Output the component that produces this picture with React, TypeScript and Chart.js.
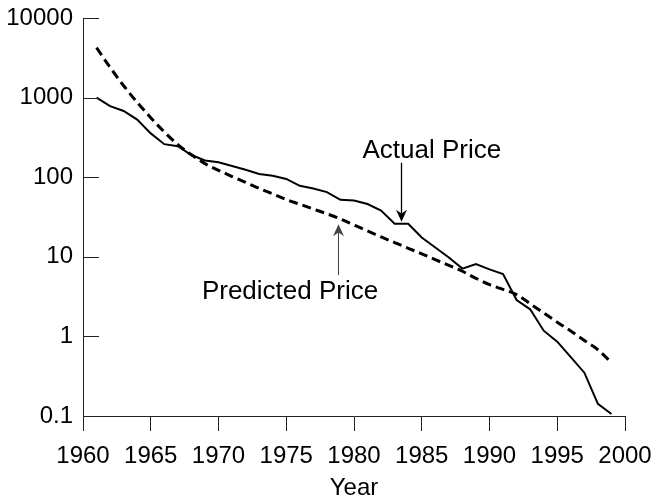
import React, { useEffect, useRef } from "react";
import { Chart, registerables } from "chart.js";

Chart.register(...registerables);

const years = [
  1961, 1962, 1963, 1964, 1965, 1966, 1967, 1968, 1969, 1970,
  1971, 1972, 1973, 1974, 1975, 1976, 1977, 1978, 1979, 1980,
  1981, 1982, 1983, 1984, 1985, 1986, 1987, 1988, 1989, 1990,
  1991, 1992, 1993, 1994, 1995, 1996, 1997, 1998, 1999,
];

const actualPrice = [
  1000, 780, 680, 530, 355, 260, 245, 190, 162, 154,
  138, 124, 110, 104, 95, 78, 72, 65, 52, 51,
  46, 38, 26, 26, 17.5, 13.1, 9.8, 7.1, 8.1, 6.95,
  6.07, 2.86, 2.19, 1.18, 0.86, 0.55, 0.35, 0.142, 0.106,
];

const predictedPrice = [
  4240, 2400, 1410, 870, 560, 370, 257, 191, 148, 122,
  102, 86.1, 72.4, 61.7, 52.5, 45.7, 39.8, 34.7, 29.9, 25.1,
  21.1, 17.8, 15.1, 12.8, 10.9, 9.2, 7.8, 6.58, 5.37, 4.47,
  3.89, 3.35, 2.57, 1.97, 1.51, 1.17, 0.89, 0.68, 0.47,
];

const xTicks = [1960, 1965, 1970, 1975, 1980, 1985, 1990, 1995, 2000];
const yTicks = [0.1, 1, 10, 100, 1000, 10000];
const xTitle = "Year";
const actualLabel = "Actual Price";
const predictedLabel = "Predicted Price";
// arrow tips, in data coordinates [year, price]
const actualArrowTip = [1983.5, 27.5];
const predictedArrowTip = [1978.8, 25.7];

const FONT = "'Liberation Sans', Arial, Helvetica, sans-serif";
const AXIS_COLOR = "#222";

function drawArrow(ctx: CanvasRenderingContext2D, x: number, tailY: number, tipY: number, color: string, width: number) {
  const dir = tipY > tailY ? 1 : -1;
  const headLen = 12;
  const headHalf = 5.5;
  ctx.strokeStyle = color;
  ctx.fillStyle = color;
  ctx.lineWidth = width;
  ctx.beginPath();
  ctx.moveTo(x, tailY);
  ctx.lineTo(x, tipY - dir * headLen * 0.6);
  ctx.stroke();
  ctx.beginPath();
  ctx.moveTo(x, tipY);
  ctx.lineTo(x - headHalf, tipY - dir * headLen);
  ctx.lineTo(x, tipY - dir * headLen * 0.7);
  ctx.lineTo(x + headHalf, tipY - dir * headLen);
  ctx.closePath();
  ctx.fill();
}

const extrasPlugin = {
  id: "extras",
  afterDatasetsDraw(chart: any) {
    const { ctx, chartArea, scales } = chart;
    const x = scales.x;
    const y = scales.y;
    ctx.save();
    // inward y ticks
    ctx.strokeStyle = AXIS_COLOR;
    ctx.lineWidth = 1;
    for (const v of yTicks) {
      if (v === yTicks[0]) continue;
      const py = Math.round(y.getPixelForValue(v)) + 0.5;
      ctx.beginPath();
      ctx.moveTo(chartArea.left, py);
      ctx.lineTo(chartArea.left + 16, py);
      ctx.stroke();
    }
    // Actual price annotation
    const ax = Math.round(x.getPixelForValue(actualArrowTip[0])) + 0.5;
    const ay = y.getPixelForValue(actualArrowTip[1]);
    drawArrow(ctx, ax, ay - 59, ay, "#000", 1.3);
    ctx.fillStyle = "#000";
    ctx.font = `26px ${FONT}`;
    ctx.textAlign = "left";
    ctx.textBaseline = "alphabetic";
    ctx.fillText(actualLabel, ax - 39, ay - 64);
    // Predicted price annotation
    const px = Math.round(x.getPixelForValue(predictedArrowTip[0])) + 0.5;
    const py = y.getPixelForValue(predictedArrowTip[1]);
    drawArrow(ctx, px, py + 51, py, "#444", 1);
    ctx.fillStyle = "#000";
    ctx.fillText(predictedLabel, px - 136.6, py + 75.3);
    ctx.restore();
  },
};

export default function App() {
  const ref = useRef<HTMLCanvasElement>(null);

  useEffect(() => {
    if (!ref.current) return;
    const chart = new Chart(ref.current, {
      type: "line",
      data: {
        datasets: [
          {
            label: actualLabel,
            data: years.map((yr, i) => ({ x: yr, y: actualPrice[i] })),
            borderColor: "#000",
            borderWidth: 2,
            pointRadius: 0,
            tension: 0,
            fill: false,
          },
          {
            label: predictedLabel,
            data: years.map((yr, i) => ({ x: yr, y: predictedPrice[i] })),
            borderColor: "#000",
            borderWidth: 3,
            borderDash: [9, 5],
            pointRadius: 0,
            cubicInterpolationMode: "monotone",
            fill: false,
          },
        ],
      },
      options: {
        responsive: false,
        animation: false,
        devicePixelRatio: 1,
        layout: { padding: { top: 18, right: 31, left: 0, bottom: 0 } },
        plugins: {
          legend: { display: false },
          tooltip: { enabled: false },
        },
        scales: {
          x: {
            type: "linear",
            min: xTicks[0],
            max: xTicks[xTicks.length - 1],
            afterBuildTicks: (scale: any) => {
              scale.ticks = xTicks.map((v) => ({ value: v }));
            },
            afterFit: (scale: any) => {
              scale.height = 85;
              scale.paddingLeft = 0;
              scale.paddingRight = 0;
              scale.paddingTop = 0;
              scale.paddingBottom = 0;
            },
            grid: {
              display: true,
              drawOnChartArea: false,
              drawTicks: true,
              tickLength: 15,
              color: AXIS_COLOR,
              lineWidth: 1,
            },
            border: { display: true, color: AXIS_COLOR, width: 1 },
            ticks: {
              autoSkip: false,
              maxRotation: 0,
              padding: 11,
              color: "#000",
              font: { family: FONT, size: 24 },
              callback: (v: any) => String(v),
            },
            title: {
              display: true,
              text: xTitle,
              color: "#000",
              font: { family: FONT, size: 24 },
              padding: { top: 0, bottom: -2 },
            },
          },
          y: {
            type: "logarithmic",
            min: yTicks[0],
            max: yTicks[yTicks.length - 1],
            afterBuildTicks: (scale: any) => {
              scale.ticks = yTicks.map((v) => ({ value: v }));
            },
            afterFit: (scale: any) => {
              scale.width = 83;
              scale.paddingLeft = 0;
              scale.paddingRight = 0;
              scale.paddingTop = 0;
              scale.paddingBottom = 0;
            },
            grid: { display: false, drawTicks: false },
            border: { display: true, color: AXIS_COLOR, width: 1 },
            ticks: {
              padding: 10,
              color: "#000",
              font: { family: FONT, size: 24 },
              callback: (v: any) => String(v),
            },
          },
        },
      },
      plugins: [extrasPlugin],
    });
    return () => chart.destroy();
  }, []);

  return (
    <div style={{ position: "fixed", left: 0, top: 0, width: 656, height: 501, background: "#fff" }}>
      <canvas ref={ref} width={656} height={501} style={{ display: "block" }} />
    </div>
  );
}
